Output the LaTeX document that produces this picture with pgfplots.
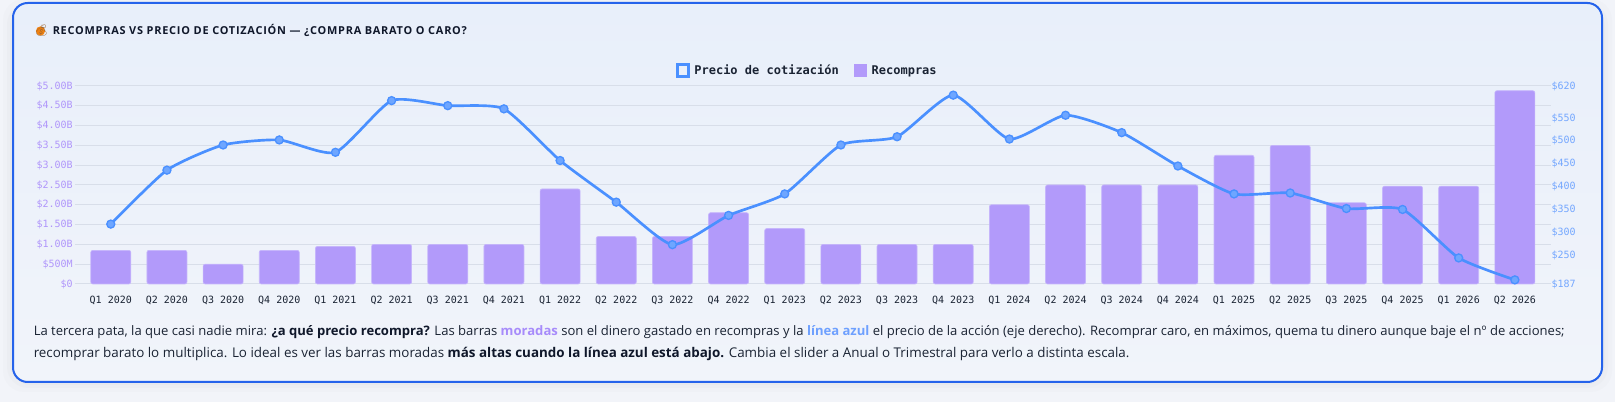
\documentclass[border=0pt]{standalone}
\usepackage{fontspec}
\usepackage{pgfplots}
\usepackage{pgfplotstable}
\pgfplotsset{compat=1.18}
\setmainfont{Open Sans}
\newfontfamily\monof{DejaVu Sans Mono}
\newfontfamily\titlef[LetterSpace=7]{Open Sans}
\newfontfamily\emojif{Noto Emoji}

\definecolor{pagebg}{HTML}{F2F4F9}
\definecolor{cardtop}{HTML}{E8EFFA}
\definecolor{cardbot}{HTML}{F1F4FA}
\definecolor{cardline}{HTML}{2563EB}
\definecolor{gridc}{HTML}{D8DEE9}
\definecolor{barfill}{HTML}{B29AFA}
\definecolor{barline}{HTML}{C6B6FC}
\definecolor{linec}{HTML}{4A90FF}
\definecolor{leftc}{HTML}{B096FB}
\definecolor{rightc}{HTML}{74A7FF}
\definecolor{inkc}{HTML}{1A2333}
\definecolor{darkc}{HTML}{0F172A}
\definecolor{morada}{HTML}{A78BFA}
\definecolor{azul}{HTML}{6EA0FF}

% buybacks, $ billions
\pgfplotstableread{
idx val
0 0.85
1 0.85
2 0.50
3 0.85
4 0.95
5 1.00
6 1.00
7 1.00
8 2.40
9 1.20
10 1.20
11 1.80
12 1.40
13 1.00
14 1.00
15 1.00
16 2.00
17 2.50
18 2.50
19 2.50
20 3.25
21 3.50
22 2.05
23 2.47
24 2.47
25 4.88
}\buybacks

% share price, $
\pgfplotstableread{
idx val
0 318
1 436
2 491
3 502
4 475
5 588
6 577
7 570
8 457
9 366
10 273
11 337
12 384
13 491
14 509
15 600
16 504
17 556
18 518
19 445
20 384
21 386
22 352
23 350
24 244
25 196
}\price

\pgfplotsset{
  base/.style={
    scale only axis,
    width=1095.2pt, height=148.5pt,
    xmin=-0.5, xmax=25.5,
    clip=false,
    axis line style={draw=none},
    xtick style={draw=none},
  },
}

\begin{document}
\begin{tikzpicture}[x=0.75pt,y=0.75pt]
\path[use as bounding box] (0,0) rectangle (1615,402);
\fill[pagebg] (0,0) rectangle (1615,402);
% soft shadow under the card
\foreach \o/\a in {10/0.04,6/0.05,3/0.06}
  \fill[black!30,opacity=\a,rounded corners=16pt] (13-\o,20-\o) rectangle (1602+\o,399+\o-6);
\shade[top color=cardtop,bottom color=cardbot,rounded corners=11pt] (13,20) rectangle (1602,399);
\draw[cardline,line width=1.5pt,rounded corners=11pt] (13,20) rectangle (1602,399);

\fill[orange!75!brown] (40.5,371) circle (4.6);
\node[anchor=base west,inner sep=0pt,text=brown!80!black,font=\emojif\fontsize{8.5pt}{10pt}\selectfont] at (34,367) {💰};
\node[anchor=base west,inner sep=0pt,text=darkc,font=\titlef\bfseries\fontsize{8.2pt}{10pt}\selectfont] at (52.5,367)
  {RECOMPRAS VS PRECIO DE COTIZACIÓN — ¿COMPRA BARATO O CARO?};

\begin{axis}[
  base,
  at={(62.025pt,88.5pt)}, anchor=south west,
  ymin=0, ymax=5,
  ytick={0,0.5,1,1.5,2,2.5,3,3.5,4,4.5,5},
  yticklabels={\$0,\$500M,\$1.00B,\$1.50B,\$2.00B,\$2.50B,\$3.00B,\$3.50B,\$4.00B,\$4.50B,\$5.00B},
  ymajorgrids=true,
  grid style={gridc,line width=0.75pt},
  tick align=outside,
  major tick length=6pt,
  ytick style={gridc,line width=0.75pt},
  yticklabel style={font=\monof\fontsize{7.5pt}{9pt}\selectfont,text=leftc,xshift=2pt},
  xtick=data,
  xticklabels={Q1 2020,Q2 2020,Q3 2020,Q4 2020,Q1 2021,Q2 2021,Q3 2021,Q4 2021,Q1 2022,Q2 2022,Q3 2022,Q4 2022,Q1 2023,Q2 2023,Q3 2023,Q4 2023,Q1 2024,Q2 2024,Q3 2024,Q4 2024,Q1 2025,Q2 2025,Q3 2025,Q4 2025,Q1 2026,Q2 2026},
  xticklabel style={font=\monof\fontsize{7.5pt}{9pt}\selectfont,text=inkc,yshift=0.5pt},
  ybar, bar width=30pt, bar shift=0pt,
]
\addplot[fill=barfill,draw=barline,line width=0.5pt,rounded corners=1.5pt] table[x=idx,y=val] {\buybacks};
\end{axis}

\begin{axis}[
  base,
  at={(62.025pt,88.5pt)}, anchor=south west,
  axis y line*=right,
  axis x line=none,
  ymin=187, ymax=620,
  ytick={187,250,300,350,400,450,500,550,620},
  yticklabels={\$187,\$250,\$300,\$350,\$400,\$450,\$500,\$550,\$620},
  ytick style={draw=none},
  yticklabel style={font=\monof\fontsize{7.5pt}{9pt}\selectfont,text=rightc,xshift=3pt},
  legend columns=2,
  legend cell align=left,
  legend style={draw=none,fill=none,at={(0.4965,1.076)},anchor=center,
    font=\monof\bfseries\fontsize{9pt}{11pt}\selectfont,text=inkc,
    /tikz/every even column/.style={column sep=9pt}},
]
\addlegendimage{legend image code/.code={\path[draw=none] (0pt,0pt) -- (10.6pt,0pt);\draw[linec,line width=2.2pt,fill=none,solid] (0pt,-3.9pt) rectangle (8.4pt,4.5pt);}}
\addlegendentry{Precio de cotización}
\addlegendimage{legend image code/.code={\path[draw=none] (0pt,0pt) -- (11pt,0pt);\fill[barfill,draw=none] (-0.6pt,-4.8pt) rectangle (9.3pt,5.4pt);}}
\addlegendentry{Recompras}
\addplot[forget plot,color=linec,line width=2pt,smooth,tension=0.35,
  mark=*,mark size=3pt,mark options={fill=linec!80!white,draw=linec,line width=1pt}]
  table[x=idx,y=val] {\price};
\end{axis}

\node[anchor=base west,inner sep=0pt,text=inkc,font=\fontsize{9.8pt}{12pt}\selectfont] at (33.5,66.5)
  {La tercera pata, la que casi nadie mira: \textcolor{darkc}{\bfseries ¿a qué precio recompra?} Las barras \textcolor{morada}{\bfseries moradas} son el dinero gastado en recompras y la \textcolor{azul}{\bfseries línea azul} el precio de la acción (eje derecho). Recomprar caro, en máximos, quema tu dinero aunque baje el nº de acciones;};
\node[anchor=base west,inner sep=0pt,text=inkc,font=\fontsize{10.05pt}{12pt}\selectfont] at (33.5,44)
  {recomprar barato lo multiplica. Lo ideal es ver las barras moradas \textcolor{darkc}{\bfseries más altas cuando la línea azul está abajo.} Cambia el slider a Anual o Trimestral para verlo a distinta escala.};
\end{tikzpicture}
\end{document}
